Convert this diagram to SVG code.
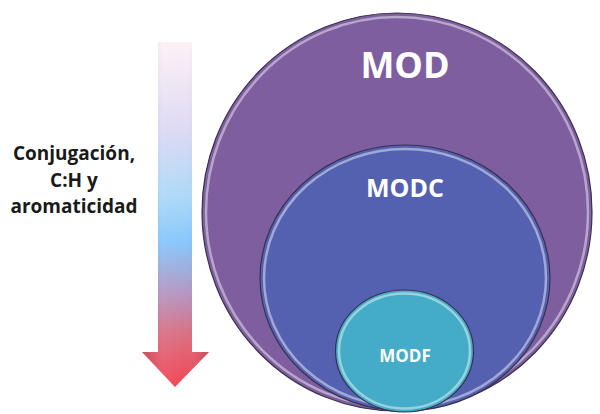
<svg xmlns="http://www.w3.org/2000/svg" width="600" height="414" viewBox="0 0 600 414">
<style>
.lbl{font-family:"Open Sans","Liberation Sans",sans-serif;font-weight:bold;fill:#ffffff;text-anchor:middle}
.side{font-family:"Open Sans","Liberation Sans",sans-serif;font-weight:bold;fill:#1a1a1a;text-anchor:middle;font-size:19px}
.rim{fill:none;stroke:#3a3050;stroke-width:1.2}
.hl{fill:none;stroke:#ffffff;stroke-opacity:0.45;stroke-width:2.5}
</style>
<defs>
<linearGradient id="arr" x1="0" y1="42" x2="0" y2="387" gradientUnits="userSpaceOnUse">
<stop offset="0" stop-color="#fdf0f6"/>
<stop offset="0.25" stop-color="#dcd8f2"/>
<stop offset="0.45" stop-color="#a8d6f8"/>
<stop offset="0.58" stop-color="#80c4fa"/>
<stop offset="0.72" stop-color="#ae94c2"/>
<stop offset="0.85" stop-color="#d8687c"/>
<stop offset="1" stop-color="#f43a48"/>
</linearGradient>
<linearGradient id="shade" x1="0" y1="0" x2="1" y2="0">
<stop offset="0" stop-color="#000" stop-opacity="0.12"/>
<stop offset="0.3" stop-color="#fff" stop-opacity="0.1"/>
<stop offset="0.7" stop-color="#fff" stop-opacity="0.05"/>
<stop offset="1" stop-color="#000" stop-opacity="0.15"/>
</linearGradient>
</defs>
<rect width="600" height="414" fill="#ffffff"/>
<g id="arrow">
<path d="M158,42 H192 V352 H209 L175,387 L142,352 H158 Z" fill="url(#arr)"/>
<path d="M158,42 H192 V352 H209 L175,387 L142,352 H158 Z" fill="url(#shade)"/>
</g>
<g id="side-label">
<text class="side" x="74" y="160">Conjugación,</text>
<text class="side" x="74" y="187">C:H y</text>
<text class="side" x="74" y="213">aromaticidad</text>
</g>
<g id="MOD">
<ellipse cx="397" cy="212" rx="195" ry="199" fill="#7e5e9f"/>
<ellipse class="hl" cx="397" cy="212" rx="191" ry="195"/>
<ellipse class="rim" cx="397" cy="212" rx="195" ry="199"/>
<text class="lbl" x="405" y="78" font-size="36">MOD</text>
</g>
<g id="MODC">
<ellipse cx="405" cy="278" rx="145" ry="133" fill="#5461b1"/>
<ellipse class="hl" cx="405" cy="278" rx="141" ry="129"/>
<ellipse class="rim" cx="405" cy="278" rx="145" ry="133"/>
<text class="lbl" x="405" y="197" font-size="25">MODC</text>
</g>
<g id="MODF">
<ellipse cx="404.5" cy="351" rx="69" ry="61" fill="#44acc6"/>
<ellipse class="hl" cx="404.5" cy="351" rx="65.5" ry="57.5"/>
<ellipse class="rim" cx="404.5" cy="351" rx="69" ry="61"/>
<text class="lbl" x="405" y="362" font-size="17">MODF</text>
</g>
</svg>
